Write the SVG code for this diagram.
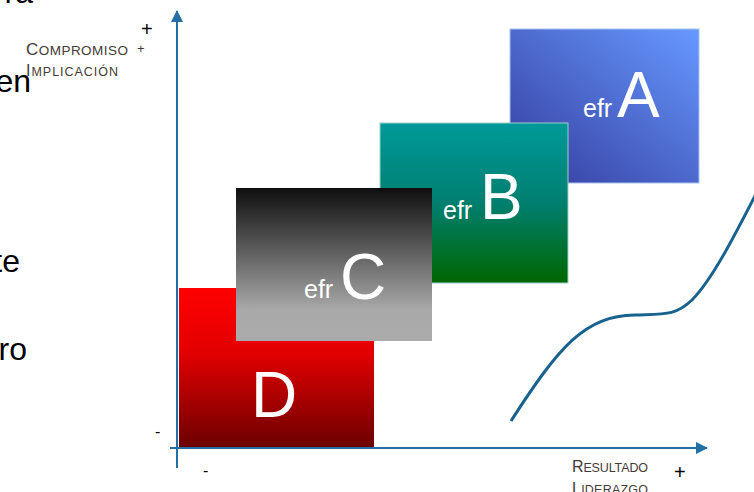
<svg xmlns="http://www.w3.org/2000/svg" width="754" height="492" viewBox="0 0 754 492">
<style>
.frag{font-family:"Liberation Sans",Arial,sans-serif;font-size:32px;fill:#000}
.ax{font-family:"Liberation Sans",Arial,sans-serif;fill:#453a35}
.sm{font-family:"Liberation Sans",Arial,sans-serif;fill:#000}
.efr{font-family:"Liberation Sans",Arial,sans-serif;font-size:25px;fill:#fff}
.big{font-family:"Liberation Sans",Arial,sans-serif;font-size:64px;fill:#fff}
.axis{stroke:#2470a6;stroke-width:2;fill:none}
</style>
<defs>
<linearGradient id="gD" x1="0" y1="0" x2="0" y2="1">
<stop offset="0" stop-color="#ff0000"/><stop offset="0.4" stop-color="#e40000"/><stop offset="1" stop-color="#6c0000"/>
</linearGradient>
<linearGradient id="gC" x1="0" y1="0" x2="0" y2="1">
<stop offset="0" stop-color="#0e0e0e"/><stop offset="0.8" stop-color="#a9a9a9"/><stop offset="1" stop-color="#ababab"/>
</linearGradient>
<linearGradient id="gB" x1="0" y1="0" x2="0" y2="1">
<stop offset="0" stop-color="#009999"/><stop offset="0.5" stop-color="#007f70"/><stop offset="1" stop-color="#006600"/>
</linearGradient>
<linearGradient id="gA" x1="1" y1="0" x2="0" y2="1">
<stop offset="0" stop-color="#6699ff"/><stop offset="1" stop-color="#343a9c"/>
</linearGradient>
<marker id="arr" viewBox="0 0 12 12" refX="11" refY="6" markerWidth="12" markerHeight="12" markerUnits="userSpaceOnUse" orient="auto">
<path d="M0,0 L12,6 L0,12 Z" fill="#2470a6"/>
</marker>
</defs>
<rect width="754" height="492" fill="#fff"/>
<g id="fragments">
<text class="frag" x="33" y="3" text-anchor="end">ra</text>
<text class="frag" x="31" y="92" text-anchor="end">en</text>
<text class="frag" x="20" y="272" text-anchor="end">te</text>
<text class="frag" x="27" y="360" text-anchor="end">ro</text>
</g>
<g id="boxA">
<rect x="510" y="29" width="189" height="154" fill="url(#gA)" stroke="#a8c4f0" stroke-width="1"/>
<text class="efr" x="583" y="117">efr</text>
<text class="big" x="617" y="117">A</text>
</g>
<g id="boxB">
<rect x="380" y="123" width="188" height="160" fill="url(#gB)" stroke="#9fcfc4" stroke-width="1"/>
<text class="efr" x="443" y="219">efr</text>
<text class="big" x="480" y="219">B</text>
</g>
<g id="boxD">
<rect x="179" y="288" width="195" height="159" fill="url(#gD)"/>
<text class="big" x="251" y="417">D</text>
</g>
<g id="boxC">
<rect x="236" y="188" width="196" height="153" fill="url(#gC)"/>
<text class="efr" x="304" y="298">efr</text>
<text class="big" x="340" y="299">C</text>
</g>
<g id="connectors">
<line class="axis" x1="177" y1="468" x2="177" y2="11" marker-end="url(#arr)"/>
<line class="axis" x1="170" y1="448" x2="707" y2="448" marker-end="url(#arr)"/>
<path d="M511,421 C560,345 585,316 635,315 C665,314 675,316 692,300 C712,280 735,235 758,190" fill="none" stroke="#17628f" stroke-width="3"/>
</g>
<g id="labels">
<text class="ax" x="26" y="55" textLength="102" lengthAdjust="spacing"><tspan font-size="17">C</tspan><tspan font-size="13.5">OMPROMISO</tspan></text>
<text class="ax" x="137" y="53" font-size="13">+</text>
<text class="ax" x="26" y="76" textLength="92" lengthAdjust="spacing"><tspan font-size="16">I</tspan><tspan font-size="12.5">MPLICACIÓN</tspan></text>
<text class="sm" x="141" y="36" font-size="20">+</text>
<text class="ax" x="572" y="472" textLength="76" lengthAdjust="spacing"><tspan font-size="16">R</tspan><tspan font-size="12.5">ESULTADO</tspan></text>
<text class="ax" x="572" y="494" textLength="76" lengthAdjust="spacing"><tspan font-size="16">L</tspan><tspan font-size="12.5">IDERAZGO</tspan></text>
<text class="sm" x="674" y="479" font-size="20">+</text>
<text class="sm" x="155" y="437" font-size="16">-</text>
<text class="sm" x="203" y="476" font-size="16">-</text>
</g>
</svg>
